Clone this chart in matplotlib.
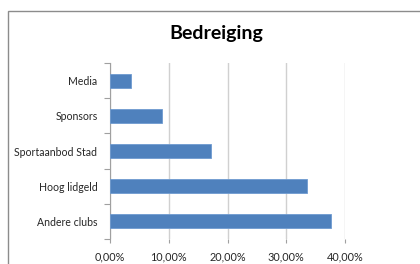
import matplotlib
matplotlib.use("Agg")
import matplotlib.pyplot as plt
from matplotlib.patches import Rectangle
from matplotlib.ticker import FuncFormatter, FixedLocator

# data (top to bottom as shown)
categories = ["Media", "Sponsors", "Sportaanbod Stad", "Hoog lidgeld", "Andere clubs"]
values = [0.036, 0.088, 0.172, 0.336, 0.376]
xticks = [0.0, 0.1, 0.2, 0.3, 0.4]

plt.rcParams['font.family'] = ['Lato', 'DejaVu Sans']

fig = plt.figure(figsize=(4.2, 2.64), dpi=100)
fig.patch.set_facecolor("white")

# chart area border (extends past the right/bottom edge of the picture)
fig.patches.append(Rectangle((8 / 420, -0.1), 1.2, 1 - 11 / 264 + 0.1,
                             transform=fig.transFigure, fill=False,
                             edgecolor="#8c8c8c", linewidth=1.0))

ax = fig.add_axes([110 / 420, 1 - 239 / 264, 235 / 420, 176 / 264])

ypos = list(range(len(categories)))
ax.barh(ypos, values, height=0.4, color="#4f81bd", edgecolor="#6f9bd1", linewidth=0.6, zorder=3)

ax.set_xlim(0, 0.4)
ax.set_ylim(len(categories) - 0.5, -0.5)

ax.set_yticks(ypos)
ax.set_yticklabels(categories, fontsize=7.6, color="#262626")
ax.yaxis.set_minor_locator(FixedLocator([i - 0.5 for i in range(len(categories) + 1)]))
ax.tick_params(axis="y", which="major", length=0, pad=9)
ax.tick_params(axis="y", which="minor", length=4, color="#a0a0a0", width=0.8)

ax.set_xticks(xticks)
ax.xaxis.set_major_formatter(FuncFormatter(lambda v, p: f"{v * 100:.2f}%".replace(".", ",")))
ax.tick_params(axis="x", length=3, color="#a0a0a0", width=0.8, labelsize=7.8,
               labelcolor="#262626", pad=6)

ax.grid(axis="x", color="#d0d0d0", linewidth=1.0, zorder=0)
ax.set_axisbelow(True)

for s in ["top", "right", "bottom"]:
    ax.spines[s].set_visible(False)
ax.spines["left"].set_color("#a0a0a0")
ax.spines["left"].set_linewidth(0.8)

fig.text(216 / 420, 1 - 34 / 264, "Bedreiging", ha="center", va="center",
         fontsize=14, fontweight="bold", color="black")

fig.savefig("out.png", dpi=100)
